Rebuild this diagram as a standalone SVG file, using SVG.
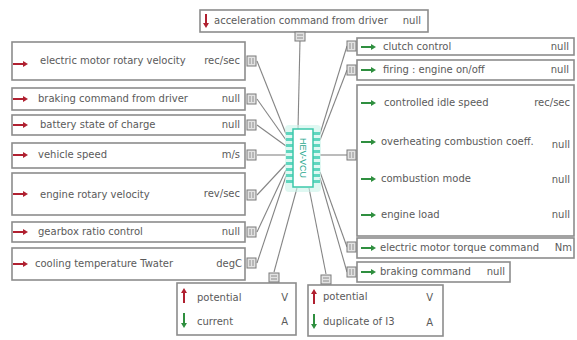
<svg xmlns="http://www.w3.org/2000/svg" width="577" height="340" viewBox="0 0 577 340">
<style>
.box{fill:#fff;stroke:#8c8c8c;stroke-width:1.6}
.t{font-family:"DejaVu Sans","Liberation Sans",sans-serif;font-size:10px;fill:#5a5a5a}
.u{font-family:"DejaVu Sans","Liberation Sans",sans-serif;font-size:10px;fill:#5a5a5a;text-anchor:end}
.port{fill:#e2e2e2;stroke:#7a7a7a;stroke-width:1}
.pl{stroke:#7a7a7a;stroke-width:0.8}
.red{stroke:#b02030;stroke-width:2;fill:none}
.grn{stroke:#2f8f3f;stroke-width:2;fill:none}
.redf{fill:#b02030}
.grnf{fill:#2f8f3f}
.c{stroke:#858585;stroke-width:1.1;fill:none}
.pin{fill:#5fd6bf}
</style>
<defs>
<g id="ra"><path class="red" d="M0 0H11"/><path class="redf" d="M10 -3L15 0L10 3Z"/></g>
<g id="ga"><path class="grn" d="M0 0H11"/><path class="grnf" d="M10 -3L15 0L10 3Z"/></g>
<g id="pv"><rect class="port" x="0" y="0" width="9" height="10"/><path class="pl" d="M3 2V8M6 2V8"/></g>
</defs>
<g id="connectors">
<path class="c" d="M257 61L286 134"/>
<path class="c" d="M257 99L286 140"/>
<path class="c" d="M257 125L286 146"/>
<path class="c" d="M257 155L286 155"/>
<path class="c" d="M257 195L286 164"/>
<path class="c" d="M257 232L286 170"/>
<path class="c" d="M257 263L286 176"/>
<path class="c" d="M300 40L298 129"/>
<path class="c" d="M274 272L297 188"/>
<path class="c" d="M326 274L309 188"/>
<path class="c" d="M347 46L320 134"/>
<path class="c" d="M347 70L320 140"/>
<path class="c" d="M347 155L320 155"/>
<path class="c" d="M347 247L320 172"/>
<path class="c" d="M347 272L320 178"/>
</g>
<g id="vcu">
<rect x="285" y="125" width="36" height="67" rx="4" fill="#c9f3ea" opacity="0.6"/>
<g class="pin">
<rect x="286" y="132" width="7" height="3"/><rect x="286" y="138" width="7" height="3"/><rect x="286" y="144" width="7" height="3"/><rect x="286" y="150" width="7" height="3"/><rect x="286" y="156" width="7" height="3"/><rect x="286" y="162" width="7" height="3"/><rect x="286" y="168" width="7" height="3"/><rect x="286" y="174" width="7" height="3"/><rect x="286" y="180" width="7" height="3"/>
<rect x="313" y="132" width="7" height="3"/><rect x="313" y="138" width="7" height="3"/><rect x="313" y="144" width="7" height="3"/><rect x="313" y="150" width="7" height="3"/><rect x="313" y="156" width="7" height="3"/><rect x="313" y="162" width="7" height="3"/><rect x="313" y="168" width="7" height="3"/><rect x="313" y="174" width="7" height="3"/><rect x="313" y="180" width="7" height="3"/>
</g>
<rect x="293" y="129" width="20" height="58" fill="#fff" stroke="#3cc7aa" stroke-width="1.5"/>
<text x="0" y="0" transform="translate(300 158) rotate(90)" text-anchor="middle" style="fill:#2aa88e;font-size:9px;font-family:'Liberation Sans',sans-serif">HEV-VCU</text>
</g>
<g id="top">
<rect class="box" x="200" y="10" width="228" height="22"/>
<path class="red" d="M206 14V24"/><path class="redf" d="M203 23L206 28L209 23Z"/>
<text class="t" x="214" y="24">acceleration command from driver</text>
<text class="u" x="421" y="24">null</text>
<use href="#pv" transform="translate(305 32) rotate(90)"/>
</g>
<g id="l1"><rect class="box" x="12" y="42" width="233" height="38"/><use href="#ra" x="13" y="64"/><text class="t" x="40" y="64">electric motor rotary velocity</text><text class="u" x="240" y="64">rec/sec</text><use href="#pv" x="247" y="56"/></g>
<g id="l2"><rect class="box" x="12" y="88" width="233" height="22"/><use href="#ra" x="13" y="99"/><text class="t" x="38" y="102">braking command from driver</text><text class="u" x="240" y="102">null</text><use href="#pv" x="247" y="94"/></g>
<g id="l3"><rect class="box" x="12" y="115" width="233" height="20"/><use href="#ra" x="13" y="125"/><text class="t" x="40" y="128">battery state of charge</text><text class="u" x="240" y="128">null</text><use href="#pv" x="247" y="120"/></g>
<g id="l4"><rect class="box" x="12" y="143" width="233" height="25"/><use href="#ra" x="13" y="155"/><text class="t" x="38" y="158">vehicle speed</text><text class="u" x="240" y="158">m/s</text><use href="#pv" x="247" y="150"/></g>
<g id="l5"><rect class="box" x="12" y="173" width="233" height="42"/><use href="#ra" x="13" y="194"/><text class="t" x="40" y="198">engine rotary velocity</text><text class="u" x="240" y="197">rev/sec</text><use href="#pv" x="247" y="190"/></g>
<g id="l6"><rect class="box" x="12" y="222" width="233" height="20"/><use href="#ra" x="13" y="232"/><text class="t" x="38" y="235">gearbox ratio control</text><text class="u" x="240" y="235">null</text><use href="#pv" x="247" y="227"/></g>
<g id="l7"><rect class="box" x="12" y="248" width="233" height="32"/><use href="#ra" x="13" y="264"/><text class="t" x="35" y="267">cooling temperature Twater</text><text class="u" x="242" y="267">degC</text><use href="#pv" x="247" y="258"/></g>
<g id="r1"><rect class="box" x="357" y="38" width="217" height="17"/><use href="#ga" x="361" y="47"/><text class="t" x="383" y="50">clutch control</text><text class="u" x="569" y="50">null</text><use href="#pv" x="347" y="41"/></g>
<g id="r2"><rect class="box" x="357" y="60" width="217" height="20"/><use href="#ga" x="361" y="70"/><text class="t" x="383" y="73">firing : engine on/off</text><text class="u" x="569" y="73">null</text><use href="#pv" x="347" y="65"/></g>
<g id="r3"><rect class="box" x="357" y="85" width="217" height="151"/>
<use href="#ga" x="361" y="103"/><text class="t" x="384" y="106">controlled idle speed</text><text class="u" x="570" y="106">rec/sec</text>
<use href="#ga" x="361" y="142"/><text class="t" x="381" y="145">overheating combustion coeff.</text><text class="u" x="570" y="148">null</text>
<use href="#ga" x="361" y="179"/><text class="t" x="381" y="182">combustion mode</text><text class="u" x="570" y="183">null</text>
<use href="#ga" x="361" y="215"/><text class="t" x="381" y="218">engine load</text><text class="u" x="570" y="218">null</text>
<use href="#pv" x="347" y="150"/></g>
<g id="r4"><rect class="box" x="357" y="238" width="217" height="20"/><use href="#ga" x="361" y="248"/><text class="t" x="380" y="251">electric motor torque command</text><text class="u" x="572" y="251">Nm</text><use href="#pv" x="347" y="242"/></g>
<g id="r5"><rect class="box" x="357" y="262" width="153" height="20"/><use href="#ga" x="361" y="272"/><text class="t" x="380" y="275">braking command</text><text class="u" x="505" y="275">null</text><use href="#pv" x="347" y="267"/></g>
<g id="b1"><rect class="box" x="177" y="283" width="119" height="52"/>
<path class="red" d="M184 303V292"/><path class="redf" d="M181 293L184 288L187 293Z"/>
<text class="t" x="197" y="301">potential</text><text class="u" x="288" y="301">V</text>
<path class="grn" d="M184 313V324"/><path class="grnf" d="M181 323L184 328L187 323Z"/>
<text class="t" x="197" y="325">current</text><text class="u" x="288" y="325">A</text>
<use href="#pv" transform="translate(279 273) rotate(90)"/></g>
<g id="b2"><rect class="box" x="308" y="285" width="135" height="51"/>
<path class="red" d="M314 304V293"/><path class="redf" d="M311 294L314 289L317 294Z"/>
<text class="t" x="323" y="300">potential</text><text class="u" x="433" y="301">V</text>
<path class="grn" d="M314 314V325"/><path class="grnf" d="M311 324L314 329L317 324Z"/>
<text class="t" x="323" y="325">duplicate of I3</text><text class="u" x="433" y="326">A</text>
<use href="#pv" transform="translate(331 275) rotate(90)"/></g>
</svg>
